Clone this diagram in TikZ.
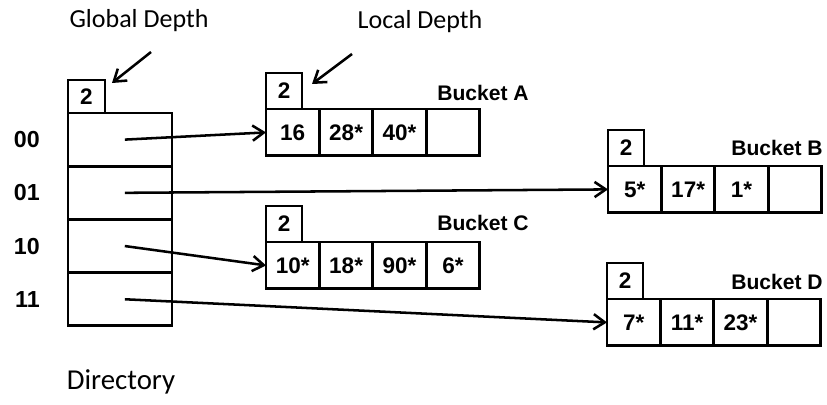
\documentclass[tikz,border=0pt]{standalone}
\usepackage{fontspec}
\setmainfont{Carlito}
\newfontfamily\arialfont{Liberation Sans}
\usetikzlibrary{positioning,arrows.meta}

\begin{document}
\begin{tikzpicture}[x=0.025cm, y=-0.025cm, >={Straight Barb[length=2.8mm,width=3.8mm]},
    cell/.style={draw=black, line width=2pt, minimum width=1.335cm, minimum height=1.17cm, inner sep=0pt, outer sep=0pt, font=\fontsize{16}{18}\arialfont\bfseries},
    depthbox/.style={cell, minimum width=0.9cm, minimum height=0.9cm},
    dircell/.style={draw=black, line width=2pt, minimum width=2.6cm, minimum height=1.33cm, inner sep=0pt, outer sep=0pt},
    bitlbl/.style={font=\fontsize{16.5}{18}\arialfont\bfseries, inner sep=0pt},
    bname/.style={font=\fontsize{15}{17}\arialfont\bfseries, inner sep=0pt},
    caption/.style={font=\fontsize{18.5}{20}\selectfont, inner sep=0pt},
    ptr/.style={->, line width=1.8pt}]

  \useasboundingbox (0,0) rectangle (827,404);

  % directory
  \node[dircell, anchor=north west] (d00) at (68,113) {};
  \node[dircell, below=0pt of d00] (d01) {};
  \node[dircell, below=0pt of d01] (d10) {};
  \node[dircell, below=0pt of d10] (d11) {};
  \node[depthbox, minimum width=0.925cm, minimum height=0.825cm, anchor=south west] (gd) at (d00.north west) {2};

  \node[bitlbl, left=0.7cm of d00] (b00) {00};
  \node[bitlbl, left=0.7cm of d01] (b01) {01};
  \node[bitlbl, left=0.7cm of d10] (b10) {10};
  \node[bitlbl, left=0.7cm of d11] (b11) {11};

  % bucket A
  \node[cell, anchor=north west] (a1) at (266,109) {16};
  \node[cell, right=0pt of a1] (a2) {28*};
  \node[cell, right=0pt of a2] (a3) {40*};
  \node[cell, right=0pt of a3] (a4) {};
  \node[depthbox, anchor=south west] (ld) at (a1.north west) {2};
  \node[bname] (namea) at (483,93) {Bucket A};

  % bucket B
  \node[cell, anchor=north west] (b1) at (608,166) {5*};
  \node[cell, right=0pt of b1] (b2) {17*};
  \node[cell, right=0pt of b2] (b3) {1*};
  \node[cell, right=0pt of b3] (b4) {};
  \node[depthbox, anchor=south west] (db) at (b1.north west) {2};
  \node[bname, anchor=east] (nameb) at (823,148) {Bucket B};

  % bucket C
  \node[cell, anchor=north west] (c1) at (266,242) {10*};
  \node[cell, right=0pt of c1] (c2) {18*};
  \node[cell, right=0pt of c2] (c3) {90*};
  \node[cell, right=0pt of c3] (c4) {6*};
  \node[depthbox, anchor=south west] (dc) at (c1.north west) {2};
  \node[bname] (namec) at (483,223) {Bucket C};

  % bucket D
  \node[cell, anchor=north west] (e1) at (607,299) {7*};
  \node[cell, right=0pt of e1] (e2) {11*};
  \node[cell, right=0pt of e2] (e3) {23*};
  \node[cell, right=0pt of e3] (e4) {};
  \node[depthbox, anchor=south west] (dd) at (e1.north west) {2};
  \node[bname, anchor=east] (named) at (823,282) {Bucket D};

  % captions
  \node[caption] (gcap) at (139,21) {Global Depth};
  \node[caption] (lcap) at (420,22) {Local Depth};
  \node[caption, font=\fontsize{20.5}{22}\selectfont] (dcap) at (121,382) {Directory};

  \coordinate (gstart) at (151,52);
  \coordinate (lstart) at (352,54);
  \draw[ptr] (gstart) -- ([shift={(7,3)}]gd.north east);
  \draw[ptr] (lstart) -- ([shift={(10,11)}]ld.north east);

  % pointers
  \draw[ptr] ([xshift=0.12cm]d00.center) -- (a1.west);
  \draw[ptr] ([xshift=0.12cm]d01.center) -- (b1.west);
  \draw[ptr] ([xshift=0.12cm]d10.center) -- (c1.west);
  \draw[ptr] ([xshift=0.12cm]d11.center) -- (e1.west);
\end{tikzpicture}
\end{document}
